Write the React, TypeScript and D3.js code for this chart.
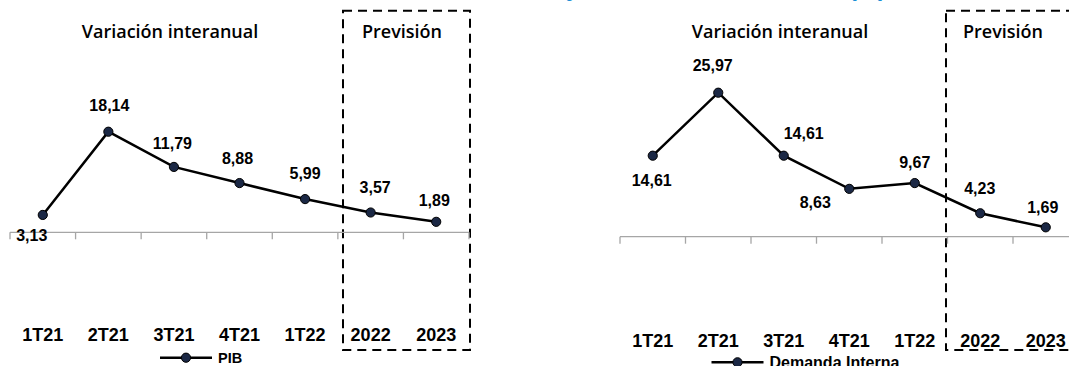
import * as d3 from 'd3'

// valores
const categories = ['1T21', '2T21', '3T21', '4T21', '1T22', '2022', '2023']
const pib = [3.13, 18.14, 11.79, 8.88, 5.99, 3.57, 1.89]
const demanda = [14.61, 25.97, 14.61, 8.63, 9.67, 4.23, 1.69]
const seriesNames = ['PIB', 'Demanda Interna']
const panelTitle = 'Variación interanual'
const boxTitle = 'Previsión'
const pageTitle = 'Evolución del PIB y de la Demanda Interna (%)'

const esFormat = d3.formatLocale({ decimal: ',', thousands: '.', grouping: [3], currency: ['', ' €'] }).format('.2f')

// posición de cada etiqueta respecto a su punto (centro del texto)
const pibOffsets = [[-11, 21], [1, -26], [-1.5, -23], [-2, -25], [0, -26], [4.5, -25], [-2, -21]]
const demandaOffsets = [[-1, 25], [-5.5, -27], [20, -22.5], [-34, 14], [0, -20.5], [-0.5, -25], [-3, -20]]

const W = 1069
const H = 366
const PX_PER_UNIT = 5.545
const font = '"Liberation Sans", Arial, sans-serif'
const titleFont = '"Open Sans", "Liberation Sans", sans-serif'

type PanelProps = {
  values: number[]
  offsets: number[][]
  name: string
  x0: number
  x1: number
  zeroY: number
  titleX: number
  boxX0: number
  boxX1: number
  prevX: number
  catY: number
  legendY: number
  legendX: number
  legendTextY: number
  legendSize: number
}

function Panel(p: PanelProps) {
  const x = d3.scaleBand<string>().domain(categories).range([p.x0, p.x1]).padding(0)
  const cx = (c: string) => (x(c) as number) + x.bandwidth() / 2
  const y = d3.scaleLinear()
    .domain([-15, 30])
    .range([p.zeroY + 15 * PX_PER_UNIT, p.zeroY - 30 * PX_PER_UNIT])

  const line = d3.line<number>()
    .x((_, i) => cx(categories[i]))
    .y(d => y(d))

  const ticks = categories.map(c => x(c) as number).concat([p.x1])

  return (
    <g>
      {/* caja de previsión */}
      <rect x={p.boxX0} y={10.7} width={p.boxX1 - p.boxX0} height={350 - 10.7}
        fill="none" stroke="#000" strokeWidth={2} strokeDasharray="9 6" />
      <text x={p.titleX} y={38.3} textAnchor="middle" fontFamily={titleFont} fontWeight={600} fontSize={18}>{panelTitle}</text>
      <text x={p.prevX} y={38.3} textAnchor="middle" fontFamily={titleFont} fontWeight={600} fontSize={18}>{boxTitle}</text>

      {/* eje horizontal */}
      <line x1={p.x0} x2={p.x1} y1={y(0)} y2={y(0)} stroke="#a6a6a6" strokeWidth={1.3} />
      {ticks.map((t, i) => (
        <line key={i} x1={t} x2={t} y1={y(0)} y2={y(0) + 7} stroke="#a6a6a6" strokeWidth={1.3} />
      ))}
      {categories.map(c => (
        <text key={c} x={cx(c)} y={p.catY} textAnchor="middle" fontFamily={font} fontWeight="bold" fontSize={18}>{c}</text>
      ))}

      <path d={line(p.values) ?? ''} fill="none" stroke="#000" strokeWidth={2.5} />
      {p.values.map((v, i) => (
        <circle key={i} cx={cx(categories[i])} cy={y(v)} r={4.6} fill="#1b2845" stroke="#000" strokeWidth={1} />
      ))}
      {p.values.map((v, i) => (
        <text key={'l' + i} x={cx(categories[i]) + p.offsets[i][0]} y={y(v) + p.offsets[i][1]}
          textAnchor="middle" dominantBaseline="central" fontFamily={font} fontWeight="bold" fontSize={16}>
          {esFormat(v)}
        </text>
      ))}

      {/* leyenda */}
      <line x1={p.legendX} x2={p.legendX + 52} y1={p.legendY} y2={p.legendY} stroke="#000" strokeWidth={2.5} />
      <circle cx={p.legendX + 26} cy={p.legendY} r={4.6} fill="#1b2845" stroke="#000" strokeWidth={1} />
      <text x={p.legendX + 58} y={p.legendTextY} fontFamily={font} fontWeight="bold" fontSize={p.legendSize}>{p.name}</text>
    </g>
  )
}

export default function App() {
  const split = pageTitle.indexOf('y de')
  return (
    <svg width={W} height={H} style={{ position: 'absolute', left: 0, top: 0, background: '#fff' }}>
      <text x={566} y={-4} fontFamily={font} fontWeight="bold" fontSize={24} fill="#1a8fd6">
        {pageTitle.slice(split)}
      </text>
      <text x={566} y={-4} textAnchor="end" fontFamily={font} fontWeight="bold" fontSize={24} fill="#1a8fd6">
        {pageTitle.slice(0, split)}
      </text>
      <Panel values={pib} offsets={pibOffsets} name={seriesNames[0]}
        x0={10} x1={469} zeroY={232.3} titleX={170} boxX0={343} boxX1={470} prevX={402}
        catY={341} legendY={357.7} legendX={160} legendTextY={363.3} legendSize={14.5} />
      <Panel values={demanda} offsets={demandaOffsets} name={seriesNames[1]}
        x0={620} x1={1078.5} zeroY={236.7} titleX={780} boxX0={946} boxX1={1100} prevX={1003}
        catY={346.5} legendY={362.3} legendX={711.5} legendTextY={367.5} legendSize={16} />
    </svg>
  )
}
